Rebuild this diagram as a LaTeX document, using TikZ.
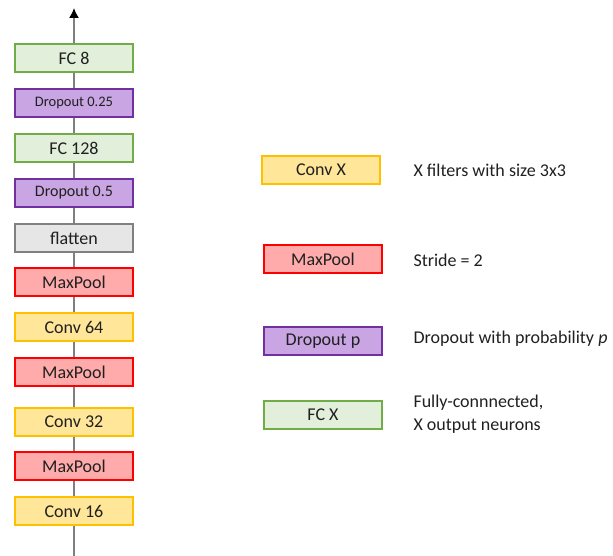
\documentclass[tikz,border=0pt]{standalone}
\usepackage{fontspec}
\setmainfont{Carlito}
\usetikzlibrary{arrows.meta}

\definecolor{convfill}{HTML}{FFE699}
\definecolor{convline}{HTML}{FFC000}
\definecolor{poolfill}{HTML}{FFABAB}
\definecolor{poolline}{HTML}{FF0000}
\definecolor{dropfill}{HTML}{C9A5E3}
\definecolor{dropline}{HTML}{7030A0}
\definecolor{fcfill}{HTML}{E2EFDA}
\definecolor{fcline}{HTML}{70AD47}
\definecolor{flatfill}{HTML}{E7E6E6}
\definecolor{flatline}{HTML}{808080}
\definecolor{wire}{HTML}{7F7F7F}
\definecolor{ink}{HTML}{202020}

\tikzset{
  layer/.style={draw, line width=2.2pt, minimum width=118pt, minimum height=28pt,
    inner sep=0pt, text=ink, font=\fontsize{18}{20}\selectfont},
  conv/.style={layer, fill=convfill, draw=convline},
  pool/.style={layer, fill=poolfill, draw=poolline},
  drop/.style={layer, fill=dropfill, draw=dropline},
  fc/.style={layer, fill=fcfill, draw=fcline},
  flat/.style={layer, fill=flatfill, draw=flatline},
  descr/.style={anchor=west, align=left, text=ink, font=\fontsize{18}{23}\selectfont},
  wire/.style={draw=wire, line width=1.5pt}
}

\begin{document}
\begin{tikzpicture}[x=1pt, y=-1pt]
    \useasboundingbox (0,0) rectangle (613,556);
    % network, bottom to top
    \coordinate (in) at (74,556);
    \coordinate (out) at (74,8);
    \node [conv] (conv16) at (74,511) {Conv 16};
    \node [pool] (pool1) at (74,466) {MaxPool};
    \node [conv] (conv32) at (74,422) {Conv 32};
    \node [pool] (pool2) at (74,372) {MaxPool};
    \node [conv] (conv64) at (74,327) {Conv 64};
    \node [pool] (pool3) at (74,282) {MaxPool};
    \node [flat] (flatten) at (74,238) {flatten};
    \node [drop, font=\fontsize{16}{18}\selectfont] (drop1) at (74,193) {Dropout 0.5};
    \node [fc] (fc128) at (74,148) {FC 128};
    \node [drop, font=\fontsize{14.5}{16}\selectfont] (drop2) at (74,103) {Dropout 0.25};
    \node [fc] (fc8) at (74,58) {FC 8};

    \draw [wire] (in) -- (conv16);
    \draw [wire] (conv16) -- (pool1);
    \draw [wire] (pool1) -- (conv32);
    \draw [wire] (conv32) -- (pool2);
    \draw [wire] (pool2) -- (conv64);
    \draw [wire] (conv64) -- (pool3);
    \draw [wire] (pool3) -- (flatten);
    \draw [wire] (flatten) -- (drop1);
    \draw [wire] (drop1) -- (fc128);
    \draw [wire] (fc128) -- (drop2);
    \draw [wire] (drop2) -- (fc8);
    \draw [wire, -{Latex[length=10pt, width=10pt, black]}] (fc8) -- (out);

    % legend
    \node [conv] (lconv) at (321,170) {Conv X};
    \node [descr] (tconv) at (410,170) {X filters with size 3x3};
    \node [pool] (lpool) at (323,259) {MaxPool};
    \node [descr] (tpool) at (410,260) {Stride = 2};
    \node [drop] (ldrop) at (323,341) {Dropout p};
    \node [descr] (tdrop) at (410,339) {Dropout with probability \textit{p}};
    \node [fc] (lfc) at (323,415) {FC X};
    \node [descr] (tfc) at (410,414) {Fully-connnected,\\X output neurons};
\end{tikzpicture}
\end{document}
